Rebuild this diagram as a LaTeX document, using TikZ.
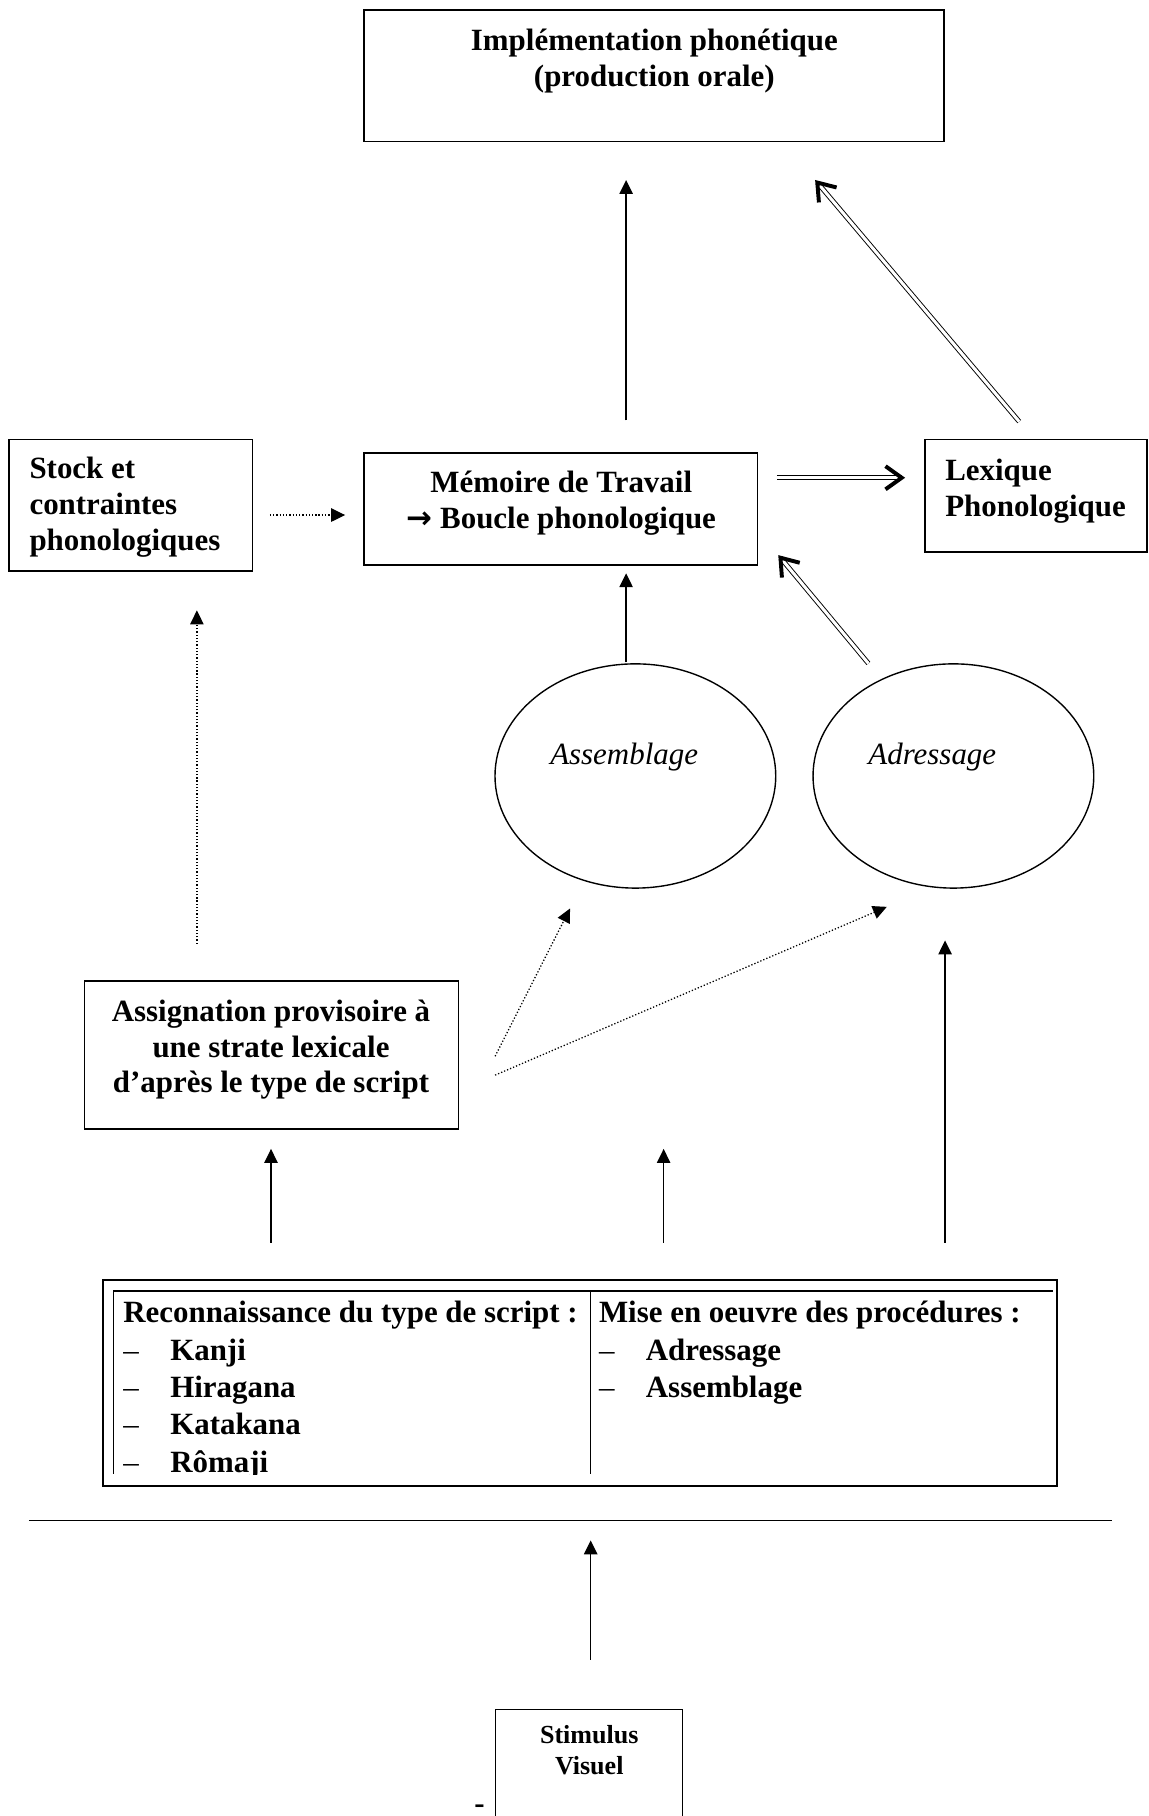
\documentclass[tikz,border=0pt]{standalone}
\usepackage{fontspec}
\setmainfont{Liberation Serif}
\newfontfamily\arrowfont{DejaVu Sans}
\usetikzlibrary{arrows.meta,calc,shapes.geometric}
\newcommand{\dsh}{\makebox[40.5pt][l]{\mdseries –}}
\begin{document}
\begin{tikzpicture}[x=1pt,y=-1pt,
  box/.style={draw, line width=1.3pt, inner sep=0pt, outer sep=0pt, anchor=north west},
  bf/.style={font=\fontsize{26.7}{31}\selectfont\bfseries, inner sep=0pt},
  tb/.style={font=\fontsize{26.7}{32.2}\selectfont\bfseries, inner sep=0pt, align=left, anchor=north west},
  sm/.style={font=\fontsize{22.5}{26.5}\selectfont\bfseries, inner sep=0pt, align=center, anchor=north},
  it/.style={font=\fontsize{26.7}{31}\selectfont\itshape, inner sep=0pt, anchor=base},
  ell/.style={draw, ellipse, line width=1.2pt, inner sep=0pt, minimum width=242.4pt, minimum height=193.6pt},
  arr/.style={line width=1.2pt, -{Triangle[length=12pt,width=11.5pt]}},
  dotarr/.style={line width=1.1pt, dash pattern=on 1.1pt off 1.7pt, -{Triangle[length=12pt,width=11.5pt]}},
  dbl/.style={double, double distance=2.6pt, line width=0.8pt, shorten >=3pt},
  barb/.style={line width=0.8pt, -{Straight Barb[length=14pt,width=20pt,line width=3.4pt]}},
]
\useasboundingbox[fill=white] (0,0) rectangle (992,1568);

% ---- boxes ----
\node[box, minimum width=500.7pt, minimum height=113.7pt] (top) at (314.3,8.6) {};
\node[bf, align=center, anchor=north] (toptxt) at (565,22.1) {\strut Implémentation phonétique\\(production orale)};

\node[box, minimum width=210.2pt, minimum height=113.4pt] (stock) at (7.8,379.4) {};
\node[bf, align=left, anchor=north west] (stocktxt) at (25.3,391.3) {\strut Stock et\\contraintes\\phonologiques};

\node[box, minimum width=339.7pt, minimum height=97pt] (mem) at (314.3,391) {};
\node[bf, align=center, anchor=north] (memtxt) at (484.6,403.7) {\strut Mémoire de Travail\\{\arrowfont\bfseries →} Boucle phonologique};

\node[box, minimum width=191.7pt, minimum height=97pt] (lex) at (798.8,379.4) {};
\node[bf, align=left, anchor=north west] (lextxt) at (816,392.8) {\strut Lexique\\Phonologique};

\node[ell] (assem) at (548.6,670) {};
\node[it] (assemtxt) at (538.9,659.7) {Assemblage};
\node[ell] (adr) at (823.2,670) {};
\node[it] (adrtxt) at (805,659.7) {Adressage};

\node[box, minimum width=322.8pt, minimum height=128.1pt] (assign) at (73,846.9) {};
\node[bf, align=center, anchor=north] (assigntxt) at (234,859.8) {\strut Assignation provisoire à\\une strate lexicale\\d’après le type de script};

% ---- table ----
\node[box, line width=1.6pt, minimum width=823.9pt, minimum height=178pt] (tab) at (88.6,1105) {};
\draw[line width=2pt] (97.8,1114.5) coordinate (tl) -- (909,1114.5) coordinate (tr);
\draw[line width=1pt] (tl) -- (97.8,1273) coordinate (bl);
\draw[line width=1pt] (510,1114.5) coordinate (ml) -- (510,1273) coordinate (mb);
\begin{scope}
  \clip (97.8,1114.5) rectangle (909,1273);
  \node[tb] (col1) at (106.3,1119.5) {\strut Reconnaissance du type de script :\\\dsh Kanji\\\dsh Hiragana\\\dsh Katakana\\\dsh Rômaji};
  \node[tb] (col2) at (517,1119.5) {\strut Mise en oeuvre des procédures :\\\dsh Adressage\\\dsh Assemblage};
\end{scope}

% ---- separator line ----
\coordinate (hl) at (25,1313);
\coordinate (hr) at (960,1313);
\draw[line width=1.3pt] (hl) -- (hr);

% ---- stimulus ----
\node[box, minimum width=161.5pt, minimum height=140pt] (stim) at (428,1476) {};
\node[sm] (stimtxt) at (508.8,1486.9) {\strut Stimulus\\Visuel};
\node[bf, anchor=base, text depth=0pt] (dash) at (414,1566) {-};

% ---- connector end points ----
\coordinate (a1s) at (540.6,363);   \coordinate (a1e) at (540.6,155.4);
\coordinate (d1s) at (880,364);     \coordinate (d1e) at (703.8,155.4);
\coordinate (s1s) at (233,444.7);   \coordinate (s1e) at (298,444.7);
\coordinate (d2s) at (670.7,412.5); \coordinate (d2e) at (781.5,412.5);
\coordinate (a2s) at (540.6,572);   \coordinate (a2e) at (540.6,495);
\coordinate (d3s) at (749.8,572.8); \coordinate (d3e) at (672,479.3);
\coordinate (s2s) at (170,815);     \coordinate (s2e) at (170,527);
\coordinate (s3s) at (427.5,912);   \coordinate (s3e) at (492.2,784.4);
\coordinate (s4s) at (427.5,928.3); \coordinate (s4e) at (765.7,783);
\coordinate (a3s) at (816,1073);    \coordinate (a3e) at (816,812);
\coordinate (a4s) at (234,1073);    \coordinate (a4e) at (234,992);
\coordinate (a5s) at (573,1073);    \coordinate (a5e) at (573,992);
\coordinate (a6s) at (510,1433);    \coordinate (a6e) at (510,1330);

% ---- single arrows ----
\draw[arr] (a1s) -- (a1e);
\draw[arr] (a2s) -- (a2e);
\draw[arr] (a3s) -- (a3e);
\draw[arr] (a4s) -- (a4e);
\draw[arr] (a5s) -- (a5e);
\draw[arr] (a6s) -- (a6e);

% ---- dotted arrows ----
\draw[dotarr] (s1s) -- (s1e);
\draw[dotarr] (s2s) -- (s2e);
\draw[dotarr] (s3s) -- (s3e);
\draw[dotarr] (s4s) -- (s4e);

% ---- double arrows ----
\draw[dbl] (d1s) -- (d1e);
\draw[barb] ($(d1e)!4pt!(d1s)$) -- (d1e);
\draw[dbl] (d2s) -- (d2e);
\draw[barb] ($(d2e)!4pt!(d2s)$) -- (d2e);
\draw[dbl] (d3s) -- (d3e);
\draw[barb] ($(d3e)!4pt!(d3s)$) -- (d3e);
\end{tikzpicture}
\end{document}
